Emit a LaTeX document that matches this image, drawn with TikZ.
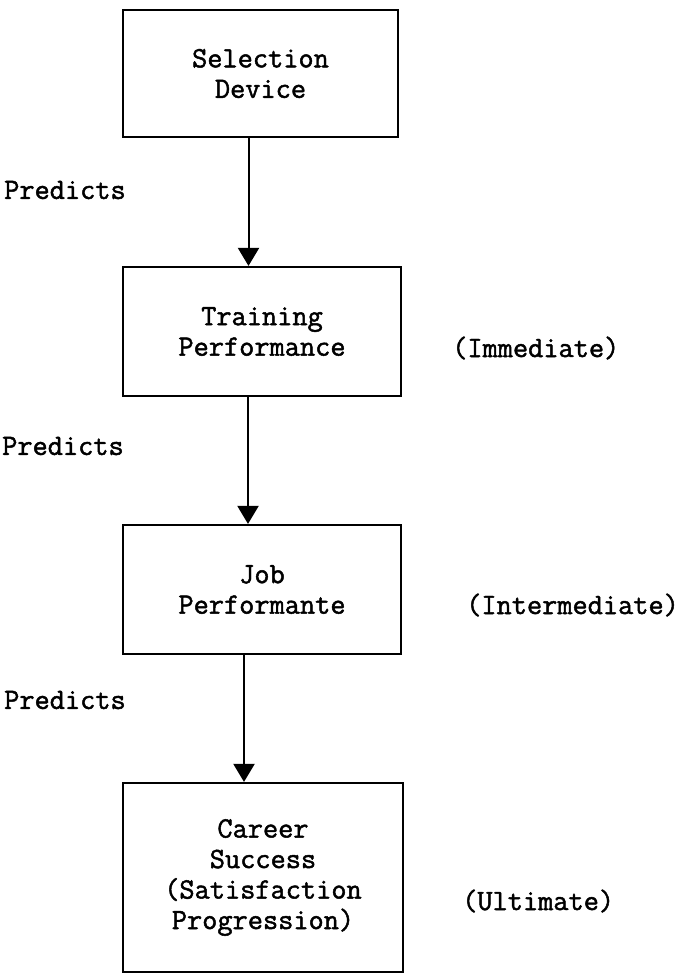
\documentclass[tikz,border=0pt]{standalone}
\usepackage{fontspec}
\usetikzlibrary{arrows.meta}
\newfontfamily\twface{Latin Modern Mono}[FakeBold=1.6]
\newcommand{\twfont}{\twface\fontsize{29.5}{30.5}\selectfont}
\tikzset{
  box/.style={draw, line width=2.2pt, minimum width=#1, inner sep=0pt, align=center,
    font=\twfont},
  lbl/.style={anchor=west, inner sep=0pt, font=\twfont},
  flow/.style={line width=2pt, -{Triangle[width=21pt,length=18pt]}}
}
\begin{document}
\begin{tikzpicture}[x=1pt,y=-1pt]
\useasboundingbox (0,0) rectangle (686,975);
\node[box=275pt, minimum height=127pt] (b1) at (260.5,73.5) {Selection\\Device};
\node[box=278pt, minimum height=129pt] (b2) at (262,331.5) {Training\\Performance};
\node[box=278pt, minimum height=129pt] (b3) at (262,589.5) {Job\\Performante};
\node[box=280pt, minimum height=189pt] (b4) at (263,877.5) {Career\\Success\\(Satisfaction\\Progression)};
\draw[flow] ([xshift=-12pt]b1.south) -- ([xshift=-12pt]b1.south |- b2.north);
\draw[flow] ([xshift=-14pt]b2.south) -- ([xshift=-14pt]b2.south |- b3.north);
\draw[flow] ([xshift=-18pt]b3.south) -- ([xshift=-18pt]b3.south |- b4.north);
\node[lbl] (p1) at (4,190) {Predicts};
\node[lbl] (p2) at (2,446) {Predicts};
\node[lbl] (p3) at (4,700) {Predicts};
\node[lbl] (l1) at (452,348) {(Immediate)};
\node[lbl] (l2) at (466,605) {(Intermediate)};
\node[lbl] (l3) at (462,901) {(Ultimate)};
\end{tikzpicture}
\end{document}
